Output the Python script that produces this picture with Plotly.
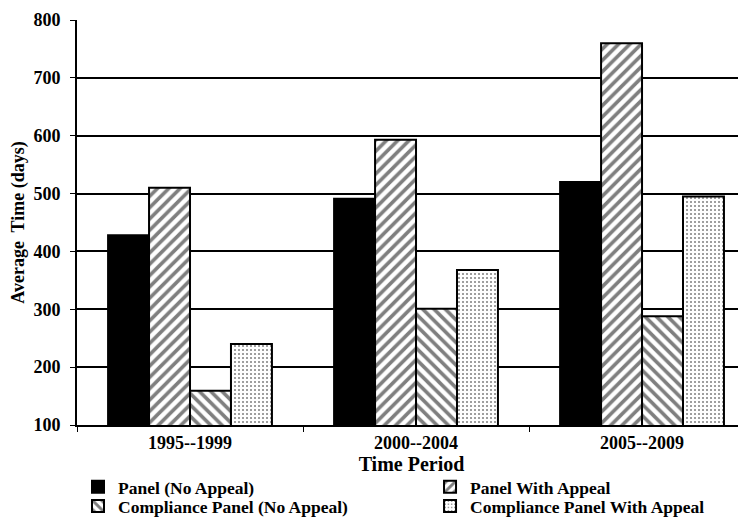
import plotly.graph_objects as go

periods = ["1995--1999", "2000--2004", "2005--2009"]
series_names = ["Panel (No Appeal)", "Panel With Appeal",
                "Compliance Panel (No Appeal)", "Compliance Panel With Appeal"]
panel_no_appeal = [428, 491, 520]
panel_with_appeal = [510, 593, 760]
compliance_no_appeal = [159, 301, 288]
compliance_with_appeal = [240, 368, 495]
yticks = [100, 200, 300, 400, 500, 600, 700, 800]

FONT = "Liberation Serif"
values = [panel_no_appeal, panel_with_appeal, compliance_no_appeal, compliance_with_appeal]
patterns = [
    dict(shape=""),
    dict(shape="/", fgcolor="black", bgcolor="white", size=8, solidity=0.45),
    dict(shape="\\", fgcolor="black", bgcolor="white", size=8, solidity=0.45),
    dict(shape=".", fgcolor="black", bgcolor="white", size=4, solidity=0.2),
]
colors = ["black", "white", "white", "white"]
legends = ["legend", "legend2", "legend3", "legend4"]

fig = go.Figure()
for name, vals, pat, col, lg in zip(series_names, values, patterns, colors, legends):
    fig.add_trace(go.Bar(
        x=periods, y=vals, name=name, legend=lg,
        marker=dict(color=col, pattern=pat, line=dict(color="black", width=2)),
    ))

leg_common = dict(orientation="h", xanchor="left", yanchor="middle",
                  font=dict(family=FONT, size=17.5, color="black", weight="bold"),
                  itemwidth=30, bgcolor="rgba(0,0,0,0)")
col_x = [0.0015, 0.5277]
row_y = [-0.153, -0.2]

fig.update_layout(
    width=738, height=509,
    paper_bgcolor="white", plot_bgcolor="white",
    margin=dict(l=69, r=0, t=12, b=92, autoexpand=False),
    barmode="group", bargap=0.275, bargroupgap=0,
    font=dict(family=FONT, color="black", size=18),
    showlegend=True,
    legend=dict(leg_common, x=col_x[0], y=row_y[0]),
    legend2=dict(leg_common, x=col_x[1], y=row_y[0]),
    legend3=dict(leg_common, x=col_x[0], y=row_y[1]),
    legend4=dict(leg_common, x=col_x[1], y=row_y[1]),
)
fig.update_xaxes(
    range=[-0.5, 2.46],
    title=dict(text="<b>Time Period</b>", font=dict(family=FONT, size=20), standoff=3),
    tickfont=dict(family=FONT, size=18, weight="bold"),
    showline=True, linecolor="black", linewidth=2,
    ticks="outside", tickson="boundaries", ticklen=5, tickcolor="black",
    showgrid=False,
)
fig.update_yaxes(
    range=[100, 800], tickvals=yticks,
    title=dict(text="<b>Average\u00a0 Time (days)</b>", font=dict(family=FONT, size=18), standoff=5),
    tickfont=dict(family=FONT, size=18, weight="bold"),
    showline=True, linecolor="black", linewidth=2,
    ticks="outside", ticklen=5, tickcolor="black", ticklabelstandoff=6,
    showgrid=True, gridcolor="black", gridwidth=2,
)
fig.write_html("out.html")
